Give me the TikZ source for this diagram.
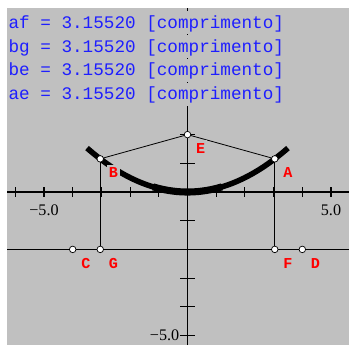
\documentclass[tikz,border=0pt]{standalone}
\usepackage{fontspec}
\setmainfont{Liberation Serif}
\setmonofont{Liberation Mono}
\definecolor{bggray}{RGB}{192,192,192}
\definecolor{readblue}{RGB}{30,30,255}

\begin{document}
\begin{tikzpicture}[
  ptnode/.style={circle,draw,fill=white,inner sep=0pt,minimum size=6.5pt,line width=0.7pt},
  ptlabel/.style={font=\ttfamily\bfseries\fontsize{15}{15}\selectfont,text=red,fill=bggray,
    inner xsep=2pt,inner ysep=1pt,text height=12pt,text depth=2pt,anchor=base,shift={(0.46,-0.66)}},
  readout/.style={font=\ttfamily\fontsize{17.5}{20}\selectfont,text=readblue,fill=bggray,
    inner sep=0pt,text height=17pt,text depth=6pt,anchor=base west},
  axlabel/.style={font=\fontsize{16}{16}\selectfont,inner sep=0pt}
]
\useasboundingbox (-6.533,-5.331) rectangle (5.627,6.690);
\fill [bggray] (-6.289,-5.331) rectangle (5.627,6.411);
\draw [line width=1.1pt] (-6.289,0) -- (5.627,0);
\draw [line width=1.1pt] (0,-5.331) -- (0,6.411);
\foreach \x in {-6,...,-1,1,2,...,5}
  \draw [line width=1.1pt] (\x,-0.17) -- (\x,0.17);
\foreach \y in {-5,...,-1,1,2,...,6}
  \draw [line width=1.1pt] (-0.26,\y) -- (0.26,\y);
\draw [line width=1.1pt] (-6.289,-2) -- (5.627,-2);
\draw [line width=5.5pt] plot[domain=-3.5:3.5,samples=70,smooth] (\x,{\x*\x/8});
\draw [line width=7pt] plot[domain=-1.2:1.2,samples=30,smooth] (\x,{\x*\x/8});
\begin{scope}[every node/.style=ptnode]
\node (A) at (3.04,1.155) {};
\node (B) at (-3.04,1.155) {};
\node (E) at (0,2) {};
\node (C) at (-4,-2) {};
\node (G) at (-3.04,-2) {};
\node (F) at (3.04,-2) {};
\node (D) at (4,-2) {};
\end{scope}
\draw [line width=0.8pt] (B) edge (E);
\draw [line width=0.8pt] (E) edge (A);
\draw [line width=1.1pt] (A) edge (F);
\draw [line width=1.1pt] (B) edge (G);
\node [ptlabel] (labA) at (A) {A};
\node [ptlabel] (labB) at (B) {B};
\node [ptlabel] (labE) at (E) {E};
\node [ptlabel] (labC) at (C) {C};
\node [ptlabel] (labG) at (G) {G};
\node [ptlabel] (labF) at (F) {F};
\node [ptlabel] (labD) at (D) {D};
\node [axlabel] at (-5,-0.63) {−5.0};
\node [axlabel] at (5,-0.63) {5.0};
\node [axlabel,anchor=east] at (-0.28,-5) {−5.0};
\node [readout] (af) at (-6.24,5.714) {af = 3.15520 [comprimento]};
\node [readout] (bg) at (-6.24,4.878) {bg = 3.15520 [comprimento]};
\node [readout] (be) at (-6.24,4.042) {be = 3.15520 [comprimento]};
\node [readout] (ae) at (-6.24,3.206) {ae = 3.15520 [comprimento]};
\end{tikzpicture}
\end{document}
